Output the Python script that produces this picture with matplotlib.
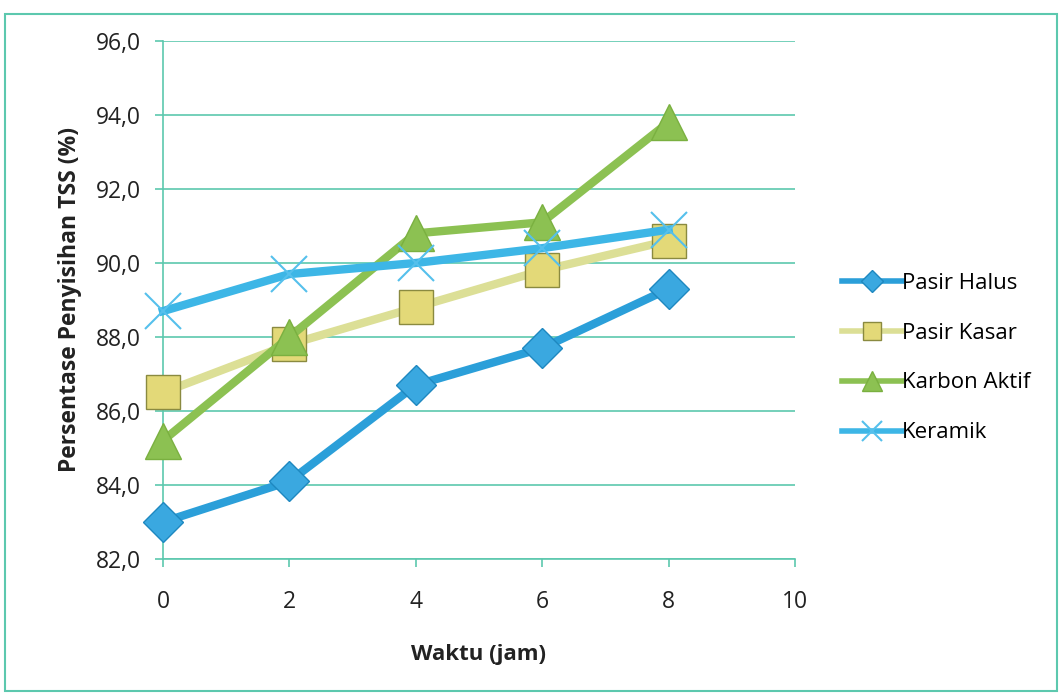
import matplotlib
matplotlib.use("Agg")
import matplotlib.pyplot as plt
from matplotlib.patches import Rectangle

# data
waktu = [0, 2, 4, 6, 8]
pasir_halus = [83.0, 84.1, 86.7, 87.7, 89.3]
pasir_kasar = [86.5, 87.8, 88.8, 89.8, 90.6]
karbon_aktif = [85.2, 88.0, 90.8, 91.1, 93.8]
keramik = [88.7, 89.7, 90.0, 90.4, 90.9]

plt.rcParams["font.family"] = ["Open Sans", "DejaVu Sans"]
teal = "#5cc8ae"

fig = plt.figure(figsize=(10.62, 6.94), dpi=100)
ax = fig.add_axes([0.1535, 0.1945, 0.595, 0.7465])

ax.plot(waktu, pasir_halus, color="#2b9fd9", lw=6, marker="D", ms=20,
        mfc="#3aa8e0", mec="#1e88c0", mew=1, label="Pasir Halus", zorder=3, clip_on=False)
ax.plot(waktu, pasir_kasar, color="#dcdf96", lw=6, marker="s", ms=24,
        mfc="#e3d978", mec="#8a8a40", mew=1, label="Pasir Kasar", zorder=3, clip_on=False)
ax.plot(waktu, karbon_aktif, color="#8cc152", lw=6, marker="^", ms=26,
        mfc="#8cc152", mec="#7ab040", mew=1, label="Karbon Aktif", zorder=3, clip_on=False)
ax.plot(waktu, keramik, color="#3db6e6", lw=6, marker="x", ms=26,
        mec="#55c0ec", mew=1.5, label="Keramik", zorder=3, clip_on=False)

ax.set_xlim(0, 10)
ax.set_ylim(82, 96)
ax.set_xticks(range(0, 11, 2))
ax.set_yticks(range(82, 97, 2))
ax.set_yticklabels([f"{v},0" for v in range(82, 97, 2)])
ax.grid(axis="y", color=teal, lw=1.2)
ax.set_axisbelow(True)
for s in ["top", "right"]:
    ax.spines[s].set_visible(False)
for s in ["left", "bottom"]:
    ax.spines[s].set_color(teal)
    ax.spines[s].set_linewidth(1.2)
ax.tick_params(colors=teal, labelcolor="#222222", labelsize=16.5, length=6, width=1.2)
ax.tick_params(axis="y", pad=10)
ax.tick_params(axis="x", pad=16)
ax.set_xlabel("Waktu (jam)", fontsize=16, fontweight="bold", color="#222222", labelpad=22)
ax.set_ylabel("Persentase Penyisihan TSS (%)", fontsize=16.5, fontweight="bold",
              color="#222222", labelpad=10)

leg = ax.legend(loc="center left", bbox_to_anchor=(1.075, 0.388), frameon=False,
                fontsize=16, handlelength=2.7, handletextpad=0.0, labelspacing=1.3,
                markerscale=0.55, borderpad=0, borderaxespad=0)
for h in leg.get_lines():
    h.set_linewidth(4)

fig.patches.append(Rectangle((0.005, 0.005), 0.99, 0.975, transform=fig.transFigure,
                             fill=False, edgecolor=teal, lw=1.5))

fig.savefig("out.png", dpi=100)
